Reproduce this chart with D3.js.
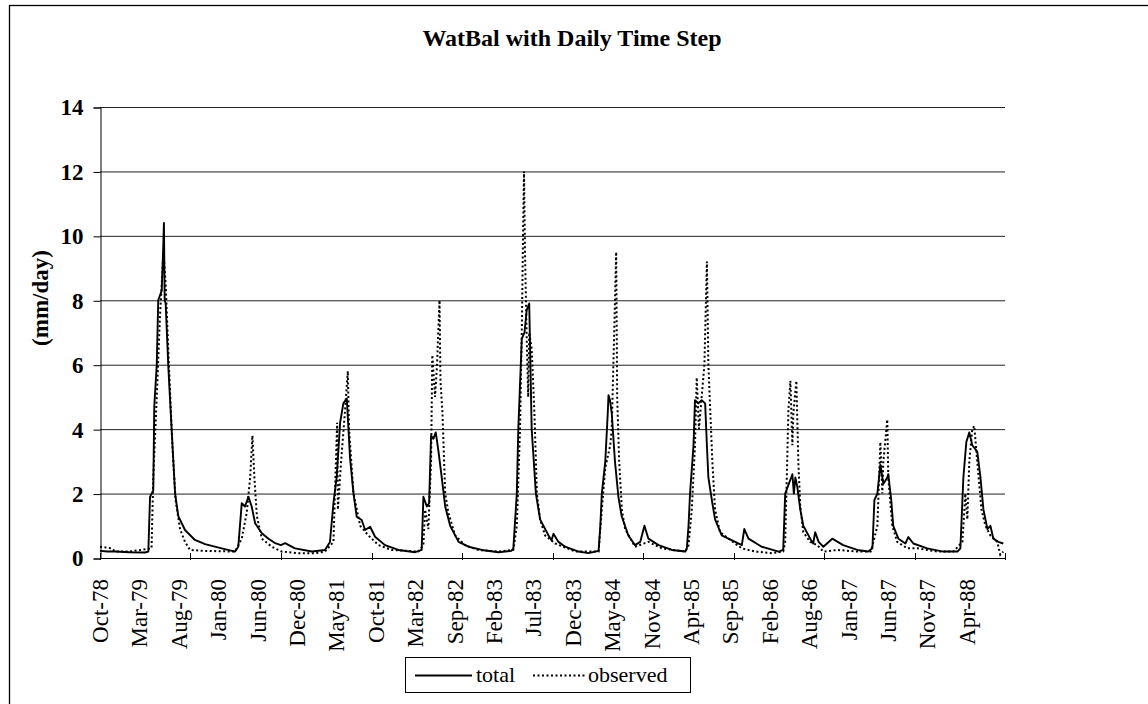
<!DOCTYPE html>
<html>
<head>
<meta charset="utf-8">
<script src="https://cdn.jsdelivr.net/npm/d3@7"></script>
<style>
  body { margin: 0; background: #fff; }
  svg { display: block; font-family: "Liberation Serif", "Times New Roman", serif; }
  .axis text { fill: #000; }
</style>
</head>
<body>
<div id="chart"></div>
<script>
// day offsets counted from 1 Oct 1978, value in mm/day
var totalSeries = [
  [0,0.22],[30,0.2],[61,0.2],[120,0.18],[182,0.17],[195,0.2],[202,1.9],[215,2.1],[219,4.7],[229,6.0],
  [235,8.0],[249,8.3],[255,9.6],[258,10.4],[261,8.0],[265,7.9],[276,5.9],[289,4.0],[303,2.0],[316,1.3],
  [343,0.87],[383,0.56],[424,0.43],[491,0.3],[545,0.2],[558,0.35],[572,1.7],[585,1.6],[599,1.9],[612,1.6],
  [626,1.08],[653,0.77],[680,0.6],[707,0.46],[730,0.4],[747,0.46],[787,0.3],[855,0.2],[908,0.25],
  [928,0.5],[942,1.7],[955,2.5],[969,4.2],[982,4.8],[996,4.95],[1009,3.1],[1023,2.0],[1036,1.28],[1056,1.18],
  [1070,0.87],[1090,0.97],[1110,0.66],[1150,0.4],[1204,0.25],[1272,0.18],[1298,0.25],
  [1305,1.9],[1319,1.6],[1328,1.7],[1336,3.8],[1345,3.7],[1355,3.9],[1366,3.3],[1379,2.5],[1393,1.6],
  [1413,1.0],[1447,0.5],[1487,0.35],[1541,0.25],[1608,0.18],[1660,0.22],
  [1668,0.3],[1682,2.0],[1688,4.0],[1702,6.8],[1713,7.0],[1722,7.7],[1732,7.9],[1742,4.0],[1759,2.0],
  [1776,1.2],[1810,0.7],[1822,0.55],[1830,0.75],[1850,0.5],
  [1877,0.35],[1931,0.2],[1971,0.15],[2012,0.22],[2019,1.0],[2025,2.0],[2039,3.0],[2049,4.5],[2052,5.05],
  [2058,4.9],[2065,4.5],[2078,3.0],[2092,1.9],[2105,1.3],[2132,0.7],[2159,0.4],[2180,0.5],[2197,1.0],
  [2213,0.6],[2254,0.4],[2308,0.25],[2362,0.2],
  [2368,0.3],[2375,1.0],[2381,2.0],[2395,3.5],[2401,4.9],[2415,4.8],[2428,4.9],[2442,4.8],[2449,3.5],
  [2455,2.5],[2469,1.8],[2482,1.2],[2509,0.7],[2536,0.6],[2590,0.4],[2600,0.9],[2617,0.6],[2670,0.35],[2738,0.2],
  [2757,0.25],[2765,2.0],[2794,2.6],[2800,2.0],[2806,2.5],[2814,2.2],[2826,1.5],[2838,1.0],[2866,0.6],
  [2878,0.45],[2886,0.8],[2900,0.5],[2919,0.35],[2955,0.6],[2999,0.4],[3056,0.25],[3100,0.2],
  [3117,0.3],[3125,1.8],[3137,2.0],[3149,2.9],[3161,2.3],[3177,2.5],[3181,2.6],[3193,1.8],[3201,1.0],
  [3222,0.6],[3250,0.45],[3262,0.65],[3282,0.45],[3338,0.3],[3403,0.2],[3460,0.2],
  [3472,0.3],[3484,2.5],[3496,3.6],[3508,3.9],[3520,3.5],[3540,3.3],[3553,2.5],[3565,1.5],[3581,0.9],
  [3593,1.0],[3605,0.6],[3625,0.5],[3645,0.45]
];

var observedSeries = [
  [0,0.35],[47,0.3],[61,0.2],[120,0.2],[208,0.3],[215,2.5],[229,5.0],[242,7.5],[256,9.5],[265,8.5],
  [278,6.0],[292,3.5],[305,1.8],[323,0.9],[343,0.5],[363,0.25],[424,0.22],[545,0.2],[572,0.6],[592,1.4],
  [606,2.5],[615,3.8],[623,2.5],[633,1.3],[653,0.6],[693,0.35],[733,0.2],[800,0.15],[870,0.15],[908,0.2],
  [942,0.5],[950,2.5],[957,4.2],[960,1.5],[973,3.0],[989,4.6],[1000,5.8],[1005,4.0],[1023,2.0],[1050,1.0],
  [1083,0.7],[1124,0.4],[1177,0.25],[1285,0.2],
  [1305,0.4],[1312,1.5],[1325,0.9],[1336,3.0],[1341,6.3],[1352,5.0],[1360,6.0],[1370,8.0],[1374,5.5],
  [1382,4.5],[1393,2.0],[1406,1.4],[1433,0.7],[1473,0.4],[1527,0.25],[1608,0.2],[1668,0.25],
  [1682,1.0],[1695,4.0],[1702,7.0],[1708,10.5],[1711,12.0],[1715,9.5],[1722,6.8],[1728,5.0],[1732,7.0],
  [1742,6.5],[1753,4.5],[1763,2.0],[1776,1.2],[1796,0.7],[1837,0.45],
  [1918,0.2],[2012,0.2],[2025,1.5],[2039,2.8],[2059,3.5],[2065,4.0],[2074,6.7],[2083,9.5],[2087,5.0],
  [2095,3.0],[2106,1.5],[2119,0.9],[2159,0.35],[2213,0.5],[2267,0.3],[2362,0.2],
  [2375,0.4],[2388,1.5],[2401,3.5],[2408,5.6],[2417,4.0],[2428,5.0],[2439,6.0],[2449,9.2],[2455,6.0],
  [2463,4.5],[2471,3.0],[2482,1.5],[2502,0.8],[2536,0.6],[2590,0.3],[2644,0.2],[2711,0.15],[2757,0.2],
  [2765,0.5],[2773,3.0],[2778,4.6],[2786,5.5],[2794,3.5],[2798,4.5],[2810,5.5],[2818,3.0],[2826,1.6],
  [2838,0.8],[2866,0.5],[2894,0.4],[2919,0.2],[2975,0.25],[3056,0.2],[3110,0.2],
  [3121,0.5],[3137,1.0],[3149,3.6],[3157,2.0],[3161,3.0],[3177,4.3],[3181,2.5],[3197,1.0],[3217,0.5],
  [3258,0.3],[3298,0.3],[3379,0.2],[3444,0.2],
  [3480,0.5],[3492,2.0],[3500,1.2],[3508,3.0],[3520,4.0],[3528,4.1],[3540,3.0],[3557,1.5],[3573,1.0],
  [3593,0.7],[3621,0.5],[3633,0.1],[3645,0.2]
];

var xLabels = ["Oct-78","Mar-79","Aug-79","Jan-80","Jun-80","Dec-80","May-81","Oct-81","Mar-82","Sep-82",
  "Feb-83","Jul-83","Dec-83","May-84","Nov-84","Apr-85","Sep-85","Feb-86","Aug-86","Jan-87","Jun-87",
  "Nov-87","Apr-88"];
var labelStep = 159;   // days between category labels
var yTicks = [0, 2, 4, 6, 8, 10, 12, 14];
var yearTicks = [0, 365, 730, 1096, 1461, 1826, 2191, 2557, 2922, 3287, 3652];

var W = 1148, H = 704;
var margin = {top: 107, right: 1005, bottom: 558, left: 100};

var svg = d3.select("#chart").append("svg")
    .attr("width", W)
    .attr("height", H);

// outer frame (only top and left edges show in the scan)
svg.append("rect")
    .attr("x", 9.5).attr("y", 5.5)
    .attr("width", 1300).attr("height", 900)
    .attr("fill", "none").attr("stroke", "#000").attr("stroke-width", 1.3);

var x = d3.scaleLinear().domain([0, 3652]).range([margin.left, margin.right]);
var y = d3.scaleLinear().domain([0, 14]).range([margin.bottom, margin.top]);

// gridlines
svg.append("g")
    .selectAll("line")
    .data(yTicks.filter(function(d) { return d > 0; }))
    .enter().append("line")
    .attr("x1", margin.left).attr("x2", margin.right)
    .attr("y1", function(d) { return y(d) + 0.5; })
    .attr("y2", function(d) { return y(d) + 0.5; })
    .attr("stroke", "#222").attr("stroke-width", 1);

// y axis
var yAxis = d3.axisLeft(y).tickValues(yTicks).tickSize(7).tickPadding(10);
var yG = svg.append("g")
    .attr("class", "axis")
    .attr("transform", "translate(" + (margin.left + 0.5) + ",0.5)")
    .call(yAxis);
yG.select(".domain").attr("stroke", "#000");
yG.selectAll("text")
    .attr("font-size", 23).attr("font-weight", "bold")
    .attr("font-family", "Liberation Serif, serif");

// x axis line with yearly ticks pointing up
svg.append("line")
    .attr("x1", margin.left).attr("x2", margin.right)
    .attr("y1", margin.bottom + 0.5).attr("y2", margin.bottom + 0.5)
    .attr("stroke", "#000").attr("stroke-width", 1);
svg.append("g")
    .selectAll("line")
    .data(yearTicks)
    .enter().append("line")
    .attr("x1", function(d) { return Math.round(x(d)) + 0.5; })
    .attr("x2", function(d) { return Math.round(x(d)) + 0.5; })
    .attr("y1", margin.bottom - 5).attr("y2", margin.bottom + 2)
    .attr("stroke", "#000");

// x labels
svg.append("g")
    .selectAll("text")
    .data(xLabels)
    .enter().append("text")
    .attr("transform", function(d, i) {
        return "translate(" + x(i * labelStep) + ",579) rotate(-90)";
    })
    .attr("text-anchor", "end")
    .attr("dy", "0.35em")
    .attr("font-size", 23)
    .text(function(d) { return d; });

// lines
var line = d3.line()
    .x(function(d) { return x(d[0]); })
    .y(function(d) { return y(d[1]); });

svg.append("path")
    .datum(observedSeries)
    .attr("d", line)
    .attr("fill", "none")
    .attr("stroke", "#000")
    .attr("stroke-width", 2)
    .attr("stroke-dasharray", "2,2.5");

svg.append("path")
    .datum(totalSeries)
    .attr("d", line)
    .attr("fill", "none")
    .attr("stroke", "#000")
    .attr("stroke-width", 1.9)
    .attr("stroke-linejoin", "round");

// title
svg.append("text")
    .attr("x", 572)
    .attr("y", 46)
    .attr("text-anchor", "middle")
    .attr("font-size", 24)
    .attr("font-weight", "bold")
    .text("WatBal with Daily Time Step");

// y label
svg.append("text")
    .attr("transform", "translate(48,298) rotate(-90)")
    .attr("text-anchor", "middle")
    .attr("font-size", 23)
    .attr("font-weight", "bold")
    .text("(mm/day)");

// legend
var legend = svg.append("g");
legend.append("rect")
    .attr("x", 405.5).attr("y", 657.5)
    .attr("width", 285).attr("height", 35)
    .attr("fill", "#fff").attr("stroke", "#000");
legend.append("line")
    .attr("x1", 415).attr("x2", 472)
    .attr("y1", 675.5).attr("y2", 675.5)
    .attr("stroke", "#000").attr("stroke-width", 1.9);
legend.append("text")
    .attr("x", 476).attr("y", 682)
    .attr("font-size", 22)
    .text("total");
legend.append("line")
    .attr("x1", 533).attr("x2", 585)
    .attr("y1", 675.5).attr("y2", 675.5)
    .attr("stroke", "#000").attr("stroke-width", 2)
    .attr("stroke-dasharray", "2,2.5");
legend.append("text")
    .attr("x", 588).attr("y", 682)
    .attr("font-size", 22)
    .text("observed");
</script>
</body>
</html>
